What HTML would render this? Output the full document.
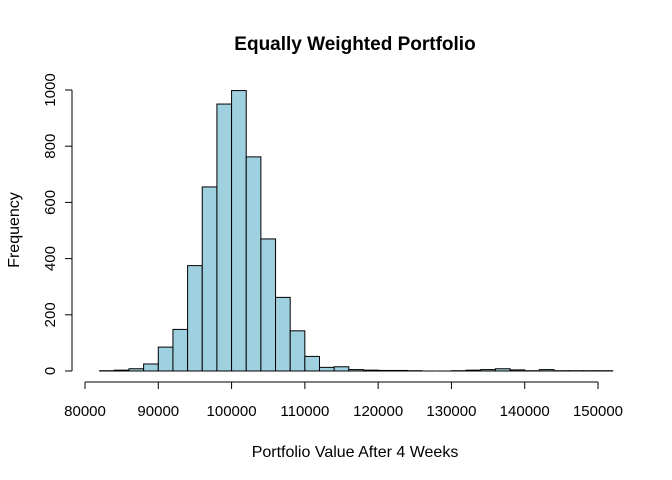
<!DOCTYPE html>
<html><head><meta charset="utf-8"><style>
body{margin:0;background:#fff}
svg{display:block;font-family:"Liberation Sans",Arial,sans-serif}
</style></head><body>
<svg id="c" width="672" height="480">
<text x="355" y="50" text-anchor="middle" font-weight="bold" font-size="19">Equally Weighted Portfolio</text>
<text x="355" y="457" text-anchor="middle" font-size="16">Portfolio Value After 4 Weeks</text>
<text transform="translate(19,230) rotate(-90)" text-anchor="middle" font-size="16">Frequency</text>
<g id="bars"></g><g id="ax"></g>
</svg>
<script>
const binStart = 82000;
const binWidth = 2000;
const counts = [1,3,8,25,85,148,375,655,950,998,762,470,262,143,52,13,15,5,3,2,2,1,0,0,1,3,5,8,4,1,5,1,1,1,1];
const xTicks = [80000,90000,100000,110000,120000,130000,140000,150000];
const yTicks = [0,200,400,600,800,1000];
const NS="http://www.w3.org/2000/svg";
const sx=v=>85+(v-80000)*513/70000;
const sy=v=>371-v*0.281;
function mk(t,a,p){const e=document.createElementNS(NS,t);for(const k in a)e.setAttribute(k,a[k]);p.appendChild(e);return e;}
const bars=document.getElementById('bars'),ax=document.getElementById('ax');
counts.forEach((c,i)=>{
 const x0=sx(binStart+i*binWidth),x1=sx(binStart+(i+1)*binWidth);
 let r;
 if(c>0){
  r=mk('rect',{x:x0,y:sy(c),width:x1-x0,height:371-sy(c),fill:'#9fd0e0',stroke:'#000','stroke-width':1},bars);
 } else {
  r=mk('line',{x1:x0,x2:x1,y1:371,y2:371,stroke:'#000','stroke-width':1},bars);
 }
 
 
});
mk('line',{x1:sx(xTicks[0]),x2:sx(xTicks[xTicks.length-1]),y1:382,y2:382,stroke:'#000'},ax);
xTicks.forEach(t=>{
 mk('line',{x1:sx(t),x2:sx(t),y1:382,y2:389,stroke:'#000'},ax);
 const l=mk('text',{x:sx(t),y:416,'text-anchor':'middle','font-size':15},ax);
 l.textContent=t;
 
 
});
mk('line',{x1:72,x2:72,y1:sy(yTicks[0]),y2:sy(yTicks[yTicks.length-1]),stroke:'#000'},ax);
yTicks.forEach(t=>{
 mk('line',{x1:65,x2:72,y1:sy(t),y2:sy(t),stroke:'#000'},ax);
 const l=mk('text',{transform:`translate(55,${sy(t)}) rotate(-90)`,'text-anchor':'middle','font-size':15},ax);
 l.textContent=t;
 
 
});
</script>
</body></html>
